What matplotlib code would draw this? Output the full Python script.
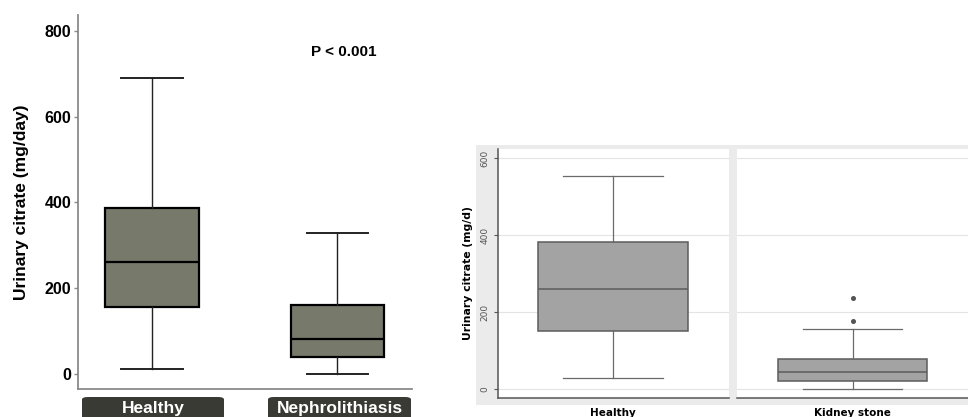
import matplotlib
matplotlib.use("Agg")
import matplotlib.pyplot as plt
from matplotlib.patches import FancyBboxPatch, Rectangle

# left figure: summary of urinary citrate, healthy vs nephrolithiasis
left_groups = ["Healthy", "Nephrolithiasis"]
left_whislo = [12, 0]
left_q1 = [156, 40]
left_med = [260, 81]
left_q3 = [388, 160]
left_whishi = [690, 328]
left_yticks = [0, 200, 400, 600, 800]

# right figure: healthy vs kidney stone (stata style)
right_groups = ["Healthy", "Kidney stone"]
right_whislo = [29, 0]
right_q1 = [151, 21]
right_med = [260, 44]
right_q3 = [382, 78]
right_whishi = [553, 156]
right_fliers = [[], [177, 236]]
right_yticks = [0, 200, 400, 600]

W, H = 968, 417


def fx(x):
    return x / W


def fy(y):
    return 1 - y / H


def stats(i, whislo, q1, med, q3, whishi, fliers=None):
    return dict(whislo=whislo[i], q1=q1[i], med=med[i], q3=q3[i],
                whishi=whishi[i], fliers=fliers[i] if fliers else [])


fig = plt.figure(figsize=(W / 100, H / 100), dpi=100)

# ---- left panel ----
ax1 = fig.add_axes([fx(78), fy(389), (412 - 78) / W, (389 - 15) / H])
st = [stats(i, left_whislo, left_q1, left_med, left_q3, left_whishi)
      for i in range(len(left_groups))]
ax1.bxp(st, positions=[1, 2], widths=0.503, capwidths=0.33, patch_artist=True,
        showfliers=False,
        boxprops=dict(facecolor="#77796b", edgecolor="black", linewidth=1.6),
        medianprops=dict(color="black", linewidth=1.6),
        whiskerprops=dict(color="#222222", linewidth=1.0),
        capprops=dict(color="#222222", linewidth=1.4))
ax1.set_xlim(0.6, 2.405)
ax1.set_ylim(-35, 837)
ax1.set_yticks(left_yticks)
ax1.set_yticklabels([str(v) for v in left_yticks], fontsize=11.5,
                    fontweight="bold", family="Liberation Sans")
ax1.set_xticks([])
for s in ["top", "right"]:
    ax1.spines[s].set_visible(False)
for s in ["left", "bottom"]:
    ax1.spines[s].set_color("#8a8a8a")
    ax1.spines[s].set_linewidth(1.3)
ax1.tick_params(axis="y", length=3, width=1, color="#8a8a8a", pad=2)
ax1.set_ylabel("Urinary citrate (mg/day)", fontsize=12.5, fontweight="bold",
               family="Liberation Sans", labelpad=11)
ax1.text(2.035, 750, "P < 0.001", ha="center", va="center", fontsize=11,
         fontweight="bold", family="Liberation Sans")

# dark label tabs under the left axis
for x0, x1, name in [(82, 224, left_groups[0]), (268, 411, left_groups[1])]:
    tab = FancyBboxPatch((fx(x0), fy(425)), (x1 - x0) / W, (425 - 397) / H,
                         boxstyle="round,pad=0,rounding_size=0.006",
                         transform=fig.transFigure, facecolor="#3a3a34",
                         edgecolor="none")
    fig.patches.append(tab)
    fig.text(fx((x0 + x1) / 2), fy(413), name, ha="center", va="baseline",
             color="white", fontsize=12.5, fontweight="bold",
             family="Liberation Sans")

# ---- right panels ----
fig.patches.append(Rectangle((fx(476), fy(405)), (W - 476) / W, (405 - 145) / H,
                             transform=fig.transFigure, facecolor="#ebebeb",
                             edgecolor="none", zorder=-1))

panel_left = [497.6, 737]
axes_r = []
for i, left in enumerate(panel_left):
    ax = fig.add_axes([fx(left), fy(398), 231 / W, (398 - 149) / H])
    ax.set_facecolor("white")
    ax.bxp([stats(i, right_whislo, right_q1, right_med, right_q3,
                  right_whishi, right_fliers)],
           positions=[1], widths=0.648, capwidths=0.43, patch_artist=True,
           boxprops=dict(facecolor="#a3a3a3", edgecolor="#5c5c5c", linewidth=1.1),
           medianprops=dict(color="#5c5c5c", linewidth=1.1),
           whiskerprops=dict(color="#6a6a6a", linewidth=0.9),
           capprops=dict(color="#6a6a6a", linewidth=0.9),
           flierprops=dict(marker="o", markersize=2.6, markerfacecolor="#555555",
                           markeredgecolor="#555555"))
    ax.set_xlim(0.5, 1.5)
    ax.set_ylim(-23.4, 623.4)
    ax.set_yticks(right_yticks)
    ax.yaxis.grid(True, color="#e4e4e4", linewidth=0.8)
    ax.set_axisbelow(True)
    ax.set_xticks([1])
    ax.set_xticklabels([right_groups[i]], fontsize=7.5, fontweight="bold",
                       family="DejaVu Sans")
    ax.tick_params(axis="x", length=0, pad=7)
    for s in ["top", "right"]:
        ax.spines[s].set_visible(False)
    ax.spines["bottom"].set_color("#555555")
    ax.spines["bottom"].set_linewidth(1.1)
    if i == 0:
        ax.spines["left"].set_color("#555555")
        ax.spines["left"].set_linewidth(1.1)
        ax.set_yticklabels([str(v) for v in right_yticks], rotation=90,
                           fontsize=6.5, color="#555555", va="center")
        ax.tick_params(axis="y", length=3, width=0.8, color="#555555", pad=3)
        ax.set_ylabel("Urinary citrate (mg/d)", fontsize=7.8, fontweight="bold",
                      labelpad=5)
    else:
        ax.spines["left"].set_visible(False)
        ax.tick_params(axis="y", length=0, labelleft=False)
    axes_r.append(ax)

fig.savefig("out.png", dpi=100)
